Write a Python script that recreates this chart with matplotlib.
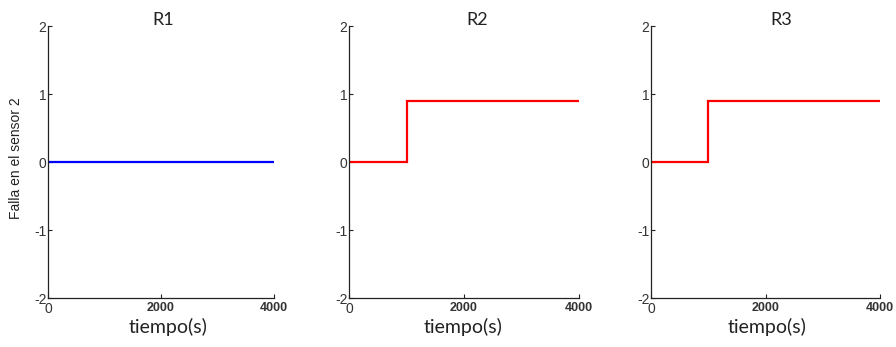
import matplotlib.pyplot as plt

plt.rcParams['axes.unicode_minus'] = False

# datos
titulos = ['R1', 'R2', 'R3']
tiempo_r1 = [0, 4000]
falla_r1 = [0, 0]
tiempo_r2 = [0, 1000, 1000, 4000]
falla_r2 = [0, 0, 0.89, 0.89]
tiempo_r3 = [0, 1000, 1000, 4000]
falla_r3 = [0, 0, 0.89, 0.89]
colores = ['#0000ff', '#ff0000', '#ff0000']

x_ticks = [0, 2000, 4000]
y_ticks = [-2, -1, 0, 1, 2]

W, H = 896, 347
fig = plt.figure(figsize=(W / 100, H / 100), dpi=100)

# posiciones de los ejes en pixeles (izq, der)
paneles = [(48, 274), (349, 579), (651, 880)]
titulo_x = [163, 477, 781]
xlabel_x = [168, 463, 767]
top, bottom = 26, 298

series = [(tiempo_r1, falla_r1), (tiempo_r2, falla_r2), (tiempo_r3, falla_r3)]

for i, ((l, r), (t, f)) in enumerate(zip(paneles, series)):
    ax = fig.add_axes([l / W, (H - bottom) / H, (r - l) / W, (bottom - top) / H])
    ax.plot(t, f, color=colores[i], linewidth=1.6, solid_joinstyle='miter')
    ax.set_xlim(0, 4000)
    ax.set_ylim(-2, 2)
    ax.set_xticks(x_ticks)
    ax.set_yticks(y_ticks)
    ax.spines['top'].set_visible(False)
    ax.spines['right'].set_visible(False)
    for s in ['left', 'bottom']:
        ax.spines[s].set_color('#222222')
        ax.spines[s].set_linewidth(0.9)
    ax.tick_params(direction='in', length=3, width=0.8, colors='#222222',
                   labelcolor='#333333')
    ax.tick_params(axis='y', labelsize=10, pad=1)
    ax.tick_params(axis='x', labelsize=9, pad=3)
    for lab in ax.get_yticklabels():
        lab.set_family('Liberation Sans')
    for j, lab in enumerate(ax.get_xticklabels()):
        lab.set_family('Liberation Sans')
        if j == 0:
            lab.set_fontsize(10)
        else:
            lab.set_fontweight('bold')
    fig.text(titulo_x[i] / W, 1 - 20 / H, titulos[i], ha='center', va='center',
             fontsize=13, family='Lato', color='#222222')
    fig.text(xlabel_x[i] / W, 1 - 327 / H, 'tiempo(s)', ha='center', va='center',
             fontsize=14, family='Lato', color='#222222')

fig.text(16 / W, 1 - 158 / H, 'Falla en el sensor 2', rotation=90, ha='center',
         va='center', fontsize=10, family='Liberation Sans', color='#222222')

fig.savefig('out.png', dpi=100)
